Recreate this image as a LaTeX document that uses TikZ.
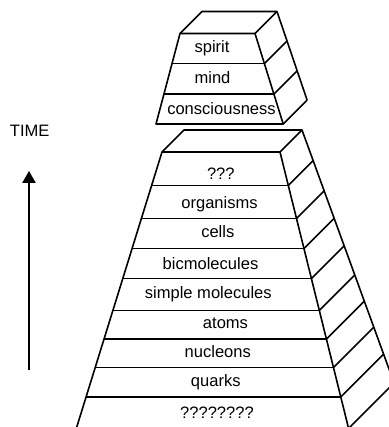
\documentclass[tikz,border=0pt]{standalone}
\usepackage{fontspec}
\setmainfont{Liberation Sans}
\usetikzlibrary{arrows.meta}

\begin{document}
\begin{tikzpicture}[x=0.75pt,y=0.75pt,yscale=-1,xscale=1,
  lbl/.style={anchor=base,inner sep=0pt,font=\fontsize{12.4}{14}\selectfont},
  wall/.style={line width=1.2pt,line join=round}]
\useasboundingbox (0,0) rectangle (388,427);

%Shape: small block, front face
\draw [wall] (180,33.5) -- (255,33.5) -- (283.2,124) -- (156,124) -- cycle ;
%Shape: small block, top face
\draw [wall] (180,33.5) -- (202,11.5) -- (277,11.5) -- (255,33.5) ;
%Straight Lines: small block, back edge
\draw [wall] (277,11.5) -- (307.1,100.1) ;
%Straight Lines: small block, rows
\draw [wall] (172.05,63.5) -- (264.4,63.5) ;
\draw [wall] (164,94) -- (273.9,94) ;
%Straight Lines: small block, side
\draw [wall] (264.4,63.5) -- (287,40.9) ;
\draw [wall] (273.9,94) -- (297.2,70.7) ;
\draw [wall] (283.2,124) -- (307.1,100.1) ;

%Shape: big block, front face
\draw [wall] (162,152) -- (280,152) -- (348.6,428.5) -- (76.3,428.5) -- cycle ;
%Shape: big block, top face
\draw [wall] (162,152) -- (184,130) -- (302,130) -- (280,152) ;
%Straight Lines: big block, back edge
\draw [wall] (302,130) -- (394.1,383) ;
%Straight Lines: big block, rows
\draw [wall] (151.6,185.5) -- (288.3,185.5) ;
\draw [wall] (141.4,218.5) -- (296.5,218.5) ;
\draw [wall] (132.1,248.5) -- (303.9,248.5) ;
\draw [wall] (122.8,278.5) -- (311.4,278.5) ;
\draw [wall] (112.9,310.5) -- (319.3,310.5) ;
\draw [wall] (104,339) -- (326.4,339) ;
\draw [wall] (95.2,367.5) -- (333.4,367.5) ;
\draw [wall] (86.1,397) -- (340.8,397) ;
%Straight Lines: big block, side
\draw [wall] (288.3,185.5) -- (313.2,160.65) ;
\draw [wall] (296.5,218.5) -- (324.2,190.85) ;
\draw [wall] (303.9,248.5) -- (334.1,218.3) ;
\draw [wall] (311.4,278.5) -- (344.2,245.75) ;
\draw [wall] (319.3,310.5) -- (354.8,275) ;
\draw [wall] (326.4,339) -- (364.3,301.1) ;
\draw [wall] (333.4,367.5) -- (373.7,327.2) ;
\draw [wall] (340.8,397) -- (383.6,354.2) ;
\draw [wall] (348.6,428.5) -- (394.1,383) ;

%Straight Lines: time arrow
\coordinate (tbot) at (29,370) ;
\coordinate (ttop) at (29,171) ;
\draw [line width=1pt, -{Triangle[width=10pt,length=9pt]}] (tbot) -- (ttop) ;

% Text Node
\node [lbl] (time) at (29.7,137) {TIME};
% Text Node
\node [lbl] (spirit) at (212,53) {spirit};
% Text Node
\node [lbl] (mind) at (212.5,83.5) {mind};
% Text Node
\node [lbl] (consc) at (221.5,114.5) {consciousness};
% Text Node
\node [lbl] (unknown) at (220.8,179.5) {???};
% Text Node
\node [lbl] (organisms) at (219.5,208.5) {organisms};
% Text Node
\node [lbl] (cells) at (217.8,238) {cells};
% Text Node
\node [lbl] (biomol) at (210.5,269) {bicmolecules};
% Text Node
\node [lbl] (simplemol) at (208.3,298.5) {simple molecules};
% Text Node
\node [lbl] (atoms) at (225.5,328.5) {atoms};
% Text Node
\node [lbl] (nucleons) at (217.8,357.5) {nucleons};
% Text Node
\node [lbl] (quarks) at (215.8,386) {quarks};
% Text Node
\node [lbl] (deeper) at (217,418.3) {????????};

\end{tikzpicture}
\end{document}
